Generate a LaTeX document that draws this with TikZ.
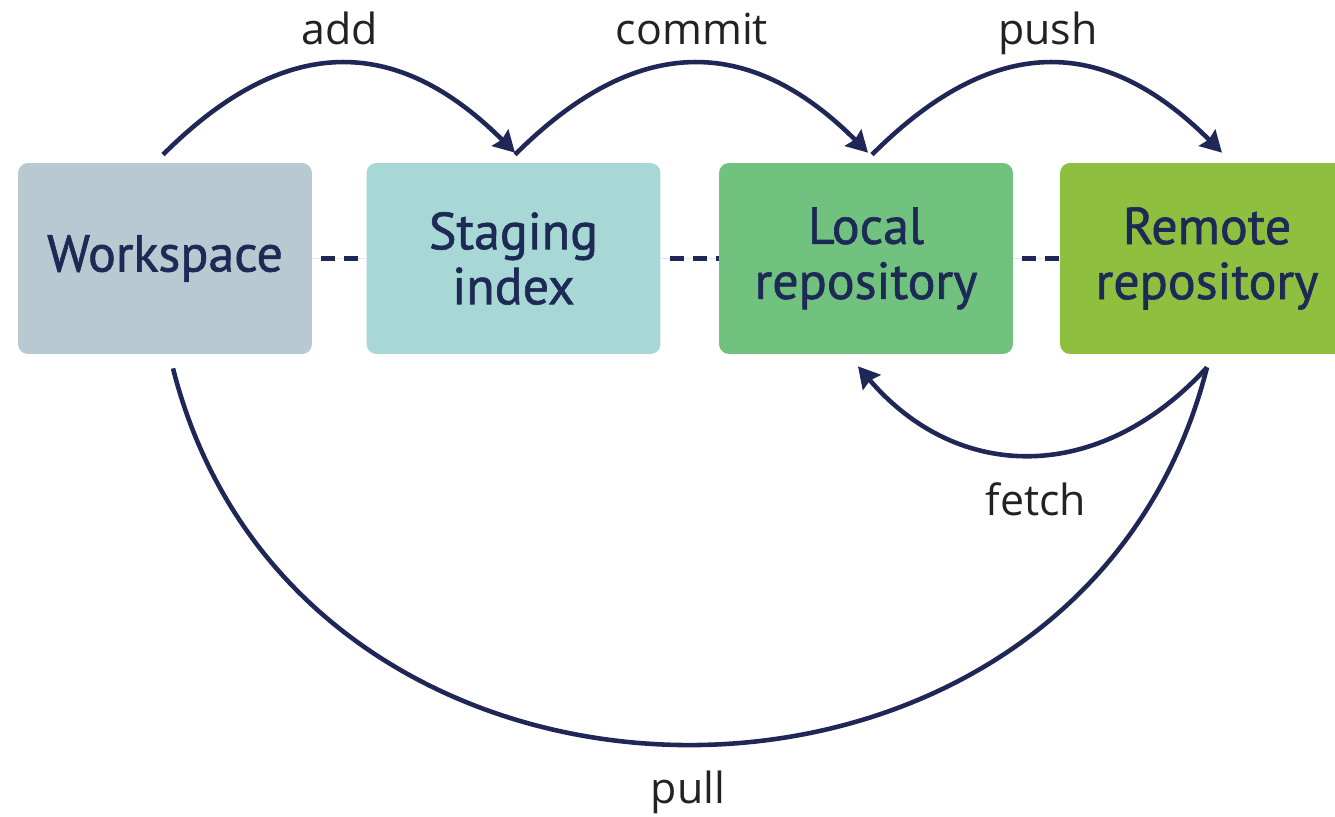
\documentclass[tikz,border=0pt]{standalone}
\usepackage{fontspec}
\setmainfont{PT Sans}
\newfontfamily\boxfont[FakeBold=1.2]{PT Sans}
\newfontfamily\labelfont{Open Sans}
\usetikzlibrary{arrows.meta,calc}
\definecolor{navy}{HTML}{1F2757}
\definecolor{boxtext}{HTML}{1E2A56}
\definecolor{wscol}{HTML}{B8C9D2}
\definecolor{sicol}{HTML}{A7D8D5}
\definecolor{lrcol}{HTML}{71C27E}
\definecolor{rrcol}{HTML}{8EBF3F}
\definecolor{faint}{HTML}{E2E8EE}
\definecolor{labcol}{HTML}{222222}
\begin{document}
\begin{tikzpicture}[x=0.02cm,y=-0.02cm,
  area/.style={rectangle,rounded corners=0.2cm,minimum width=5.88cm,minimum height=3.82cm,inner sep=0pt,
    align=center,text=boxtext,font=\boxfont\fontsize{29.6}{31.3}\selectfont},
  flow/.style={draw=navy,line width=2.6pt,-{Stealth[length=0.42cm,width=0.46cm,inset=0.05cm]}},
  plainflow/.style={draw=navy,line width=2.6pt},
  dashlink/.style={draw=navy,line width=2.6pt,dash pattern=on 0.28cm off 0.18cm,dash phase=0.28cm},
  faintlink/.style={draw=faint,line width=0.6pt},
  lab/.style={anchor=base,inner sep=0pt,text=labcol,font=\labelfont\fontsize{24.4}{28}\selectfont}]
\useasboundingbox (0,0) rectangle (1335,817);
\clip (0,0) rectangle (1335,817);

\node[area,fill=wscol] (ws) at (165,258.5) {Workspace};
\node[area,fill=sicol] (si) at (513.5,258.5) {Staging\\index};
\node[area,fill=lrcol] (lr) at (866,258.5) {Local\\repository};
\node[area,fill=rrcol] (rr) at (1207,258.5) {Remote\\repository};

% dashed links
\foreach \a/\b in {ws/si,si/lr,lr/rr}{
  \draw[faintlink] (\a.east) -- (\b.west);
  \draw[dashlink] (\a.east) -- (\b.west);
}

% anchor points
\coordinate (wsT) at ($(ws.north)+(-2,-8)$);
\coordinate (siT) at ($(si.north)+(1.5,-10)$);
\coordinate (siS) at ($(si.north)+(1.5,-8)$);
\coordinate (lrT) at ($(lr.north)+(2,-10)$);
\coordinate (lrS) at ($(lr.north)+(6,-8)$);
\coordinate (rrT) at ($(rr.north)+(15,-10)$);
\coordinate (rrB) at ($(rr.south)+(0,13)$);
\coordinate (lrB) at ($(lr.south)+(-8,12)$);
\coordinate (wsB) at ($(ws.south)+(8,14)$);

\draw[flow] (wsT) .. controls +(120,-120) and +(-120,-120) .. (siT);
\draw[flow] (siS) .. controls +(120,-120) and +(-120,-120) .. (lrT);
\draw[flow] (lrS) .. controls +(120,-120) and +(-120,-120) .. (rrT);
\draw[flow] (rrB) .. controls +(-107,117) and +(100,117) .. (lrB);
\draw[plainflow] (rrB) .. controls +(-127,503) and +(127,503) .. (wsB);

\node[lab] (ladd) at (340,45) {add};
\node[lab] (lcommit) at (692,45) {commit};
\node[lab] (lpush) at (1048,45) {push};
\node[lab] (lfetch) at (1036,515) {fetch};
\node[lab] (lpull) at (688,803) {pull};
\end{tikzpicture}
\end{document}
